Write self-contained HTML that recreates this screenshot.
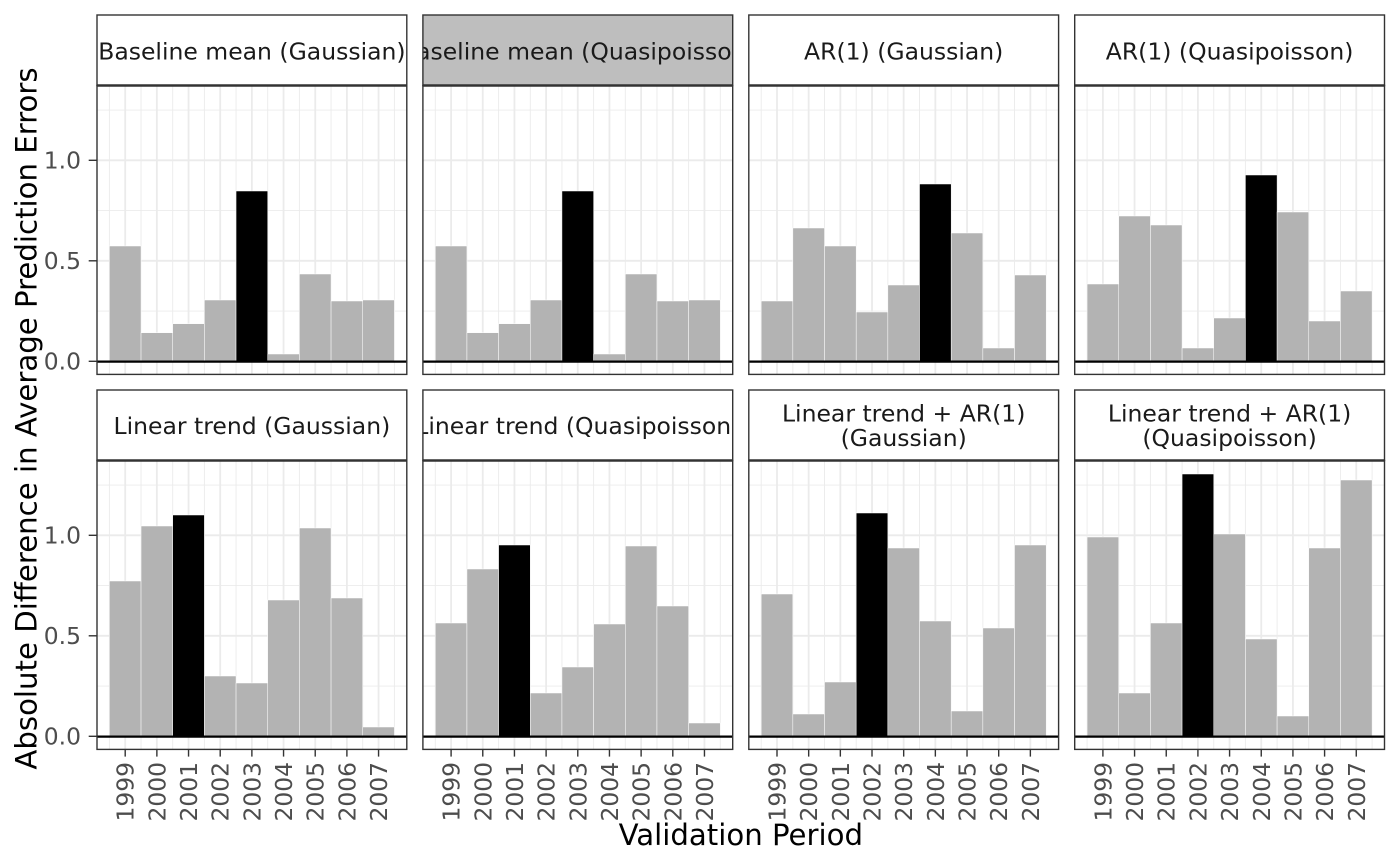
<!DOCTYPE html>
<html><head><meta charset="utf-8"><style>
html,body{margin:0;padding:0;background:#fff;}
svg{display:block;font-family:"DejaVu Sans","Liberation Sans",sans-serif;}
</style></head><body>
<svg width="1400" height="866" viewBox="0 0 1400 866" xmlns="http://www.w3.org/2000/svg">
<defs>
<clipPath id="sc"><rect x="0" y="0" width="309.8" height="70.5"/></clipPath>
<g id="grid">
<rect x="0" y="70.5" width="309.8" height="288.9" fill="#fff"/>
<g stroke="#EBEBEB" stroke-width="0.9">
<line x1="0" x2="309.8" y1="296.05" y2="296.05"/><line x1="0" x2="309.8" y1="195.55" y2="195.55"/><line x1="0" x2="309.8" y1="95.05" y2="95.05"/>
<line x1="12.37" x2="12.37" y1="70.5" y2="359.4"/><line x1="44.04" x2="44.04" y1="70.5" y2="359.4"/><line x1="75.71" x2="75.71" y1="70.5" y2="359.4"/><line x1="107.38" x2="107.38" y1="70.5" y2="359.4"/><line x1="139.05" x2="139.05" y1="70.5" y2="359.4"/><line x1="170.72" x2="170.72" y1="70.5" y2="359.4"/><line x1="202.39" x2="202.39" y1="70.5" y2="359.4"/><line x1="234.06" x2="234.06" y1="70.5" y2="359.4"/><line x1="265.73" x2="265.73" y1="70.5" y2="359.4"/><line x1="297.4" x2="297.4" y1="70.5" y2="359.4"/>
</g>
<g stroke="#EBEBEB" stroke-width="1.8">
<line x1="0" x2="309.8" y1="346.3" y2="346.3"/><line x1="0" x2="309.8" y1="245.8" y2="245.8"/><line x1="0" x2="309.8" y1="145.3" y2="145.3"/>
<line x1="28.2" x2="28.2" y1="70.5" y2="359.4"/><line x1="59.87" x2="59.87" y1="70.5" y2="359.4"/><line x1="91.54" x2="91.54" y1="70.5" y2="359.4"/><line x1="123.21" x2="123.21" y1="70.5" y2="359.4"/><line x1="154.88" x2="154.88" y1="70.5" y2="359.4"/><line x1="186.55" x2="186.55" y1="70.5" y2="359.4"/><line x1="218.22" x2="218.22" y1="70.5" y2="359.4"/><line x1="249.89" x2="249.89" y1="70.5" y2="359.4"/><line x1="281.56" x2="281.56" y1="70.5" y2="359.4"/>
</g>
</g>
<g id="frame">
<line x1="0" x2="309.8" y1="346.6" y2="346.6" stroke="#000" stroke-width="2.3"/>
<rect x="0" y="70.5" width="309.8" height="288.9" fill="none" stroke="#333" stroke-width="1.4"/>
<rect x="0" y="0" width="309.8" height="70.5" fill="none" stroke="#333" stroke-width="1.4"/>
<line x1="0" x2="309.8" y1="70.5" y2="70.5" stroke="#333" stroke-width="2.4"/>
</g>
<g id="yax" fill="#4D4D4D" font-size="23.4" text-anchor="end">
<g stroke="#333" stroke-width="1.4"><line x1="-8.3" x2="0" y1="346.3" y2="346.3"/><line x1="-8.3" x2="0" y1="245.8" y2="245.8"/><line x1="-8.3" x2="0" y1="145.3" y2="145.3"/></g>
<text x="-16" y="354.5">0.0</text><text x="-16" y="254">0.5</text><text x="-16" y="153.5">1.0</text>
</g>
<g id="xax" fill="#4D4D4D" font-size="23.4" text-anchor="end">
<g stroke="#333" stroke-width="1.4">
<line x1="28.2" x2="28.2" y1="359.4" y2="366.6"/><line x1="59.87" x2="59.87" y1="359.4" y2="366.6"/><line x1="91.54" x2="91.54" y1="359.4" y2="366.6"/><line x1="123.21" x2="123.21" y1="359.4" y2="366.6"/><line x1="154.88" x2="154.88" y1="359.4" y2="366.6"/><line x1="186.55" x2="186.55" y1="359.4" y2="366.6"/><line x1="218.22" x2="218.22" y1="359.4" y2="366.6"/><line x1="249.89" x2="249.89" y1="359.4" y2="366.6"/><line x1="281.56" x2="281.56" y1="359.4" y2="366.6"/>
</g>
<text transform="translate(36.7,372) rotate(-90)">1999</text>
<text transform="translate(68.37,372) rotate(-90)">2000</text>
<text transform="translate(100.04,372) rotate(-90)">2001</text>
<text transform="translate(131.71,372) rotate(-90)">2002</text>
<text transform="translate(163.38,372) rotate(-90)">2003</text>
<text transform="translate(195.05,372) rotate(-90)">2004</text>
<text transform="translate(226.72,372) rotate(-90)">2005</text>
<text transform="translate(258.39,372) rotate(-90)">2006</text>
<text transform="translate(290.06,372) rotate(-90)">2007</text>
</g>
</defs>

<!-- Panel 1 -->
<g transform="translate(97,15)">
<rect x="0" y="0" width="309.8" height="70.5" fill="#fff"/>
<text x="154.9" y="44.5" font-size="23.5" fill="#1A1A1A" text-anchor="middle" clip-path="url(#sc)">Baseline mean (Gaussian)</text>
<use href="#grid"/>
<g fill="#B3B3B3" stroke="#fff" stroke-width="0.5">
<rect x="12.37" width="31.67" y="231" height="115.3"/><rect x="44.04" width="31.67" y="317.7" height="28.6"/><rect x="75.71" width="31.67" y="308.7" height="37.6"/><rect x="107.38" width="31.67" y="285" height="61.3"/><rect x="139.05" width="31.67" y="176" height="170.3" fill="#000"/><rect x="170.72" width="31.67" y="339" height="7.3"/><rect x="202.39" width="31.67" y="259" height="87.3"/><rect x="234.06" width="31.67" y="286" height="60.3"/><rect x="265.73" width="31.67" y="285" height="61.3"/>
</g>
<use href="#frame"/><use href="#yax"/>
</g>

<!-- Panel 2 -->
<g transform="translate(422.9,15)">
<rect x="0" y="0" width="309.8" height="70.5" fill="#BEBEBE"/>
<text x="154.9" y="44.5" font-size="23.5" fill="#1A1A1A" text-anchor="middle" clip-path="url(#sc)">Baseline mean (Quasipoisson)</text>
<use href="#grid"/>
<g fill="#B3B3B3" stroke="#fff" stroke-width="0.5">
<rect x="12.37" width="31.67" y="231" height="115.3"/><rect x="44.04" width="31.67" y="317.7" height="28.6"/><rect x="75.71" width="31.67" y="308.7" height="37.6"/><rect x="107.38" width="31.67" y="285" height="61.3"/><rect x="139.05" width="31.67" y="176" height="170.3" fill="#000"/><rect x="170.72" width="31.67" y="339" height="7.3"/><rect x="202.39" width="31.67" y="259" height="87.3"/><rect x="234.06" width="31.67" y="286" height="60.3"/><rect x="265.73" width="31.67" y="285" height="61.3"/>
</g>
<use href="#frame"/>
</g>

<!-- Panel 3 -->
<g transform="translate(748.8,15)">
<rect x="0" y="0" width="309.8" height="70.5" fill="#fff"/>
<text x="154.9" y="44.5" font-size="23.5" fill="#1A1A1A" text-anchor="middle" clip-path="url(#sc)">AR(1) (Gaussian)</text>
<use href="#grid"/>
<g fill="#B3B3B3" stroke="#fff" stroke-width="0.5">
<rect x="12.37" width="31.67" y="286" height="60.3"/><rect x="44.04" width="31.67" y="213" height="133.3"/><rect x="75.71" width="31.67" y="231" height="115.3"/><rect x="107.38" width="31.67" y="297" height="49.3"/><rect x="139.05" width="31.67" y="270" height="76.3"/><rect x="170.72" width="31.67" y="169" height="177.3" fill="#000"/><rect x="202.39" width="31.67" y="218" height="128.3"/><rect x="234.06" width="31.67" y="333" height="13.3"/><rect x="265.73" width="31.67" y="260" height="86.3"/>
</g>
<use href="#frame"/>
</g>

<!-- Panel 4 -->
<g transform="translate(1074.7,15)">
<rect x="0" y="0" width="309.8" height="70.5" fill="#fff"/>
<text x="154.9" y="44.5" font-size="23.5" fill="#1A1A1A" text-anchor="middle" clip-path="url(#sc)">AR(1) (Quasipoisson)</text>
<use href="#grid"/>
<g fill="#B3B3B3" stroke="#fff" stroke-width="0.5">
<rect x="12.37" width="31.67" y="269" height="77.3"/><rect x="44.04" width="31.67" y="201" height="145.3"/><rect x="75.71" width="31.67" y="210" height="136.3"/><rect x="107.38" width="31.67" y="333" height="13.3"/><rect x="139.05" width="31.67" y="303" height="43.3"/><rect x="170.72" width="31.67" y="160" height="186.3" fill="#000"/><rect x="202.39" width="31.67" y="197" height="149.3"/><rect x="234.06" width="31.67" y="306" height="40.3"/><rect x="265.73" width="31.67" y="276" height="70.3"/>
</g>
<use href="#frame"/>
</g>

<!-- Panel 5 -->
<g transform="translate(97,390)">
<rect x="0" y="0" width="309.8" height="70.5" fill="#fff"/>
<text x="154.9" y="44" font-size="23.5" fill="#1A1A1A" text-anchor="middle" clip-path="url(#sc)">Linear trend (Gaussian)</text>
<use href="#grid"/>
<g fill="#B3B3B3" stroke="#fff" stroke-width="0.5">
<rect x="12.37" width="31.67" y="191" height="155.3"/><rect x="44.04" width="31.67" y="136" height="210.3"/><rect x="75.71" width="31.67" y="125" height="221.3" fill="#000"/><rect x="107.38" width="31.67" y="286" height="60.3"/><rect x="139.05" width="31.67" y="293" height="53.3"/><rect x="170.72" width="31.67" y="210" height="136.3"/><rect x="202.39" width="31.67" y="138" height="208.3"/><rect x="234.06" width="31.67" y="208" height="138.3"/><rect x="265.73" width="31.67" y="337" height="9.3"/>
</g>
<use href="#frame"/><use href="#yax"/><use href="#xax"/>
</g>

<!-- Panel 6 -->
<g transform="translate(422.9,390)">
<rect x="0" y="0" width="309.8" height="70.5" fill="#fff"/>
<text x="154.9" y="44" font-size="23.5" fill="#1A1A1A" text-anchor="middle" clip-path="url(#sc)">Linear trend (Quasipoisson)</text>
<use href="#grid"/>
<g fill="#B3B3B3" stroke="#fff" stroke-width="0.5">
<rect x="12.37" width="31.67" y="233" height="113.3"/><rect x="44.04" width="31.67" y="179" height="167.3"/><rect x="75.71" width="31.67" y="155" height="191.3" fill="#000"/><rect x="107.38" width="31.67" y="303" height="43.3"/><rect x="139.05" width="31.67" y="277" height="69.3"/><rect x="170.72" width="31.67" y="234" height="112.3"/><rect x="202.39" width="31.67" y="156" height="190.3"/><rect x="234.06" width="31.67" y="216" height="130.3"/><rect x="265.73" width="31.67" y="333" height="13.3"/>
</g>
<use href="#frame"/><use href="#xax"/>
</g>

<!-- Panel 7 -->
<g transform="translate(748.8,390)">
<rect x="0" y="0" width="309.8" height="70.5" fill="#fff"/>
<g font-size="23.5" fill="#1A1A1A" text-anchor="middle" clip-path="url(#sc)">
<text x="154.9" y="31.5">Linear trend + AR(1)</text>
<text x="154.9" y="56">(Gaussian)</text>
</g>
<use href="#grid"/>
<g fill="#B3B3B3" stroke="#fff" stroke-width="0.5">
<rect x="12.37" width="31.67" y="204" height="142.3"/><rect x="44.04" width="31.67" y="324" height="22.3"/><rect x="75.71" width="31.67" y="292" height="54.3"/><rect x="107.38" width="31.67" y="123" height="223.3" fill="#000"/><rect x="139.05" width="31.67" y="158" height="188.3"/><rect x="170.72" width="31.67" y="231" height="115.3"/><rect x="202.39" width="31.67" y="321" height="25.3"/><rect x="234.06" width="31.67" y="238" height="108.3"/><rect x="265.73" width="31.67" y="155" height="191.3"/>
</g>
<use href="#frame"/><use href="#xax"/>
</g>

<!-- Panel 8 -->
<g transform="translate(1074.7,390)">
<rect x="0" y="0" width="309.8" height="70.5" fill="#fff"/>
<g font-size="23.5" fill="#1A1A1A" text-anchor="middle" clip-path="url(#sc)">
<text x="154.9" y="31.5">Linear trend + AR(1)</text>
<text x="154.9" y="56">(Quasipoisson)</text>
</g>
<use href="#grid"/>
<g fill="#B3B3B3" stroke="#fff" stroke-width="0.5">
<rect x="12.37" width="31.67" y="147" height="199.3"/><rect x="44.04" width="31.67" y="303" height="43.3"/><rect x="75.71" width="31.67" y="233" height="113.3"/><rect x="107.38" width="31.67" y="84" height="262.3" fill="#000"/><rect x="139.05" width="31.67" y="144" height="202.3"/><rect x="170.72" width="31.67" y="249" height="97.3"/><rect x="202.39" width="31.67" y="326" height="20.3"/><rect x="234.06" width="31.67" y="158" height="188.3"/><rect x="265.73" width="31.67" y="90" height="256.3"/>
</g>
<use href="#frame"/><use href="#xax"/>
</g>

<!-- Axis titles -->
<text x="740.8" y="845" font-size="29.2" fill="#000" text-anchor="middle">Validation Period</text>
<text transform="translate(36.6,418.5) rotate(-90)" font-size="29.2" fill="#000" text-anchor="middle">Absolute Difference in Average Prediction Errors</text>
</svg>
</body></html>
